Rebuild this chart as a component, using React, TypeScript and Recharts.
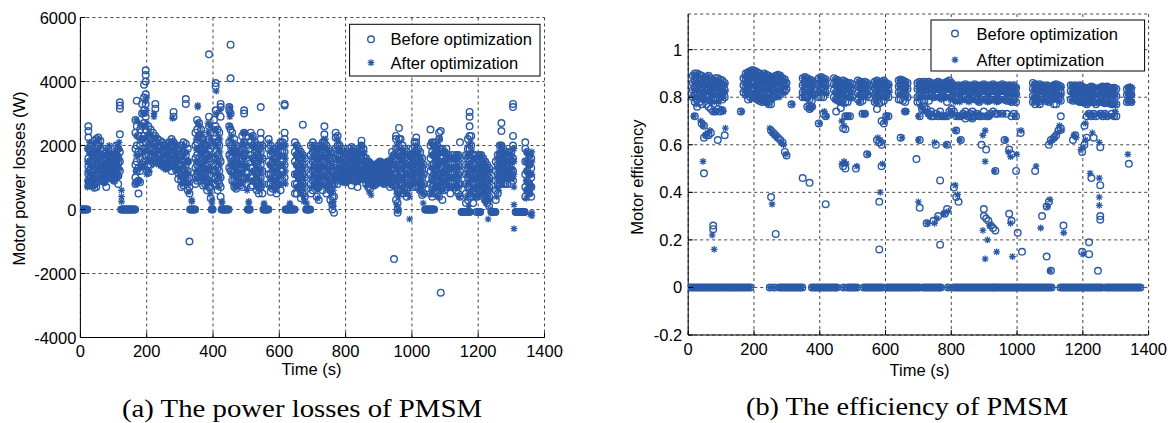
import { ScatterChart, Scatter, XAxis, YAxis, CartesianGrid } from 'recharts';

const BLUE = '#2b5aa8';
const SANS = '"Liberation Sans", Arial, sans-serif';

const timeTicks = [0, 200, 400, 600, 800, 1000, 1200, 1400];
const lossTicks = [-4000, -2000, 0, 2000, 4000, 6000];
const effTicks = [-0.2, 0, 0.2, 0.4, 0.6, 0.8, 1];

// (a) power losses, W. Each column: [time, values...]
const lossZeroTimes = [
  0, 3, 6, 9, 12, 15, 18, 21, 123, 126, 129, 132, 135, 138, 141, 144, 147, 150, 153, 156, 159, 162, 165,
  331, 334, 337, 340, 343, 346, 396, 399, 426, 429, 432, 435, 438, 441, 444, 447, 505, 508, 511,
  552, 555, 558, 561, 564, 567, 619, 622, 625, 628, 631, 634, 637, 640, 643, 646, 681, 684, 687, 690, 693,
  1040, 1043, 1046, 1049, 1052, 1055, 1058, 1061, 1064, 1067,
];
const lossDipTimes = [
  1150, 1153, 1156, 1159, 1171, 1174, 1195, 1203, 1206, 1240, 1243, 1246, 1249, 1252,
  1313, 1316, 1319, 1322, 1325, 1328, 1331, 1334, 1337, 1340,
];

const lossBeforeCols: number[][] = [
  [24, 2600, 2450, 2250, 1900, 1600, 1350, 1100, 900, 750], [30, 1850, 1500, 1250, 1050, 900, 800],
  [36, 2000, 1700, 1400, 1150, 950, 750], [42, 2150, 1800, 1500, 1250, 1000, 800, 680],
  [48, 2200, 1900, 1600, 1300, 1050, 850, 700], [54, 2250, 2000, 1700, 1400, 1150, 900],
  [60, 2150, 1900, 1650, 1350, 1100, 950], [66, 1700, 1450, 1250, 1050, 900], [72, 1600, 1400, 1200, 1000, 850],
  [78, 1800, 1550, 1300, 1100, 950, 700], [84, 1900, 1700, 1500, 1300, 1100], [90, 1800, 1600, 1400, 1200, 1050],
  [96, 1700, 1500, 1300, 1100, 950], [102, 1600, 1400, 1250, 1100, 900], [108, 2000, 1700, 1500, 1300, 1100],
  [114, 1900, 1650, 1450, 1250, 1050, 800], [119, 3350, 3250, 3150, 2350, 1800, 1500, 1200],
  [166, 2800, 2400, 1900, 1400, 1000, 800], [170, 3400, 2600, 2000, 1500, 1200, 850], [175, 2300, 1800, 1300, 900, 500],
  [180, 2500, 2000, 1600, 1200, 850], [186, 3300, 3000, 2600, 2200, 1800, 1400],
  [192, 3900, 3500, 3100, 2700, 2300, 1900, 1500], [197, 4350, 4200, 4000, 3600, 3300, 2900, 2500, 2100, 1700],
  [205, 2600, 2300, 2000, 1700, 1400, 1150], [212, 2500, 2200, 1900, 1650, 1400], [219, 2400, 2150, 1900, 1650, 1450],
  [226, 3300, 3150, 2300, 2050, 1800, 1550], [233, 2200, 1950, 1700, 1500], [240, 2150, 1900, 1650, 1450],
  [247, 2100, 1850, 1600, 1400], [254, 2000, 1800, 1550, 1350], [261, 2050, 1800, 1550, 1300],
  [268, 2100, 1850, 1600, 1350], [275, 2200, 1950, 1700, 1450, 1200], [281, 3050, 2900, 2100, 1850, 1600, 1350],
  [288, 2000, 1750, 1500, 1250], [295, 1900, 1650, 1400, 1150, 950],
  [304, 2000, 1700, 1400, 1100, 900, 700], [311, 2100, 1800, 1500, 1200, 950, 750],
  [318, 3450, 3300, 2050, 1700, 1400, 1100, 850], [324, 1900, 1500, 1200, 900, 600], [329, 1000, 700, 500, -1000],
  [347, 2400, 2000, 1600, 1300, 1000, 800], [352, 2800, 2500, 2100, 1700, 1400, 1100, 900],
  [358, 2700, 2300, 1900, 1600, 1300, 1000], [364, 2500, 2200, 1800, 1500, 1200, 900],
  [370, 2200, 1900, 1600, 1300, 1000, 750], [376, 2000, 1700, 1400, 1100, 800], [382, 2000, 1700, 1400, 1100, 850, 600],
  [388, 4850, 2900, 2600, 2200, 1800, 1400, 1050, 700], [393, 2400, 1900, 1500, 1100, 700, 350],
  [403, 2800, 2400, 2000, 1600, 1200, 800], [408, 3950, 3850, 3100, 2600, 2100, 1600, 1200, 800],
  [414, 2500, 2100, 1700, 1300, 900, 600], [419, 2400, 2000, 1600, 1200, 800], [423, 3300, 3200, 2900, 1500, 1000, 700, 400],
  [449, 3200, 3100, 2600, 2100, 1700, 1300], [453, 5150, 4100, 3000, 2500, 2000, 1600, 1200],
  [458, 2400, 2000, 1600, 1200, 900], [464, 2200, 1800, 1500, 1200, 900, 700], [470, 2000, 1700, 1400, 1100, 850, 650],
  [476, 1900, 1600, 1300, 1050, 800], [482, 1800, 1500, 1250, 1000, 750], [488, 2300, 1900, 1600, 1300, 1000, 700],
  [494, 3100, 3000, 2400, 2100, 1700, 1300, 1000], [500, 2300, 2000, 1600, 1200, 800],
  [514, 2400, 2100, 1700, 1300, 1000, 700], [520, 2300, 2000, 1600, 1300, 1000, 750], [526, 2100, 1800, 1500, 1200, 900],
  [532, 2000, 1700, 1400, 1100, 800, 600], [538, 1900, 1600, 1300, 1000, 700, 500],
  [544, 3200, 2400, 2200, 1800, 1400, 1000, 700], [549, 2000, 1600, 1200, 800, 500],
  [568, 2200, 1900, 1500, 1100, 800], [574, 2000, 1700, 1400, 1100, 800, 550], [580, 1800, 1500, 1200, 900, 650],
  [586, 1900, 1600, 1300, 1000, 700], [592, 1900, 1600, 1300, 1000, 750, 500], [598, 2000, 1700, 1400, 1100, 800],
  [604, 2100, 1800, 1500, 1200, 900, 600], [610, 2100, 1800, 1500, 1200, 900],
  [616, 3300, 3250, 2400, 2200, 1800, 1400, 1000],
  [647, 2100, 1800, 1500, 1100, 800, 500], [653, 2000, 1700, 1400, 1100, 800, 500], [659, 1900, 1600, 1300, 1000, 700],
  [665, 1800, 1500, 1200, 900, 600, 350], [671, 2650, 1700, 1400, 1100, 800, 500], [677, 1600, 1300, 1000, 700, 400],
  [695, 2000, 1700, 1400, 1100, 800, 500], [701, 2100, 1800, 1500, 1200, 900, 600], [707, 2000, 1700, 1400, 1100, 800],
  [713, 1900, 1600, 1300, 1000, 700, 400], [719, 1900, 1600, 1300, 1000, 700, 300], [725, 2000, 1700, 1400, 1100, 800],
  [731, 2100, 1800, 1500, 1200, 900, 600], [736, 2600, 2350, 2100, 1800, 1500, 1200, 900],
  [742, 2000, 1700, 1400, 1100, 800, 500], [748, 1900, 1600, 1300, 1000, 700], [754, 1800, 1500, 1200, 900, 600, 300],
  [760, 1600, 1200, 800, 400, 150, 0], [765, 1200, 800, 400, -100],
  [770, 2400, 2250, 1900, 1600, 1300, 1000], [776, 2300, 2000, 1700, 1400, 1100, 800], [782, 2000, 1700, 1400, 1150, 900],
  [788, 1900, 1650, 1400, 1150, 950], [794, 1800, 1550, 1300, 1100, 900], [800, 1750, 1500, 1250, 1050, 850],
  [806, 1800, 1550, 1300, 1100, 900], [812, 1900, 1650, 1400, 1150, 950], [818, 1950, 1700, 1450, 1200, 1000, 750],
  [824, 1900, 1650, 1400, 1150, 900], [830, 1800, 1550, 1300, 1100, 900], [836, 1800, 1550, 1300, 1100, 900, 700],
  [842, 1900, 1650, 1400, 1150, 950], [848, 2150, 2000, 1700, 1450, 1200, 1000], [854, 1900, 1650, 1400, 1150, 950],
  [862, 1600, 1400, 1200, 1000, 800], [868, 1500, 1300, 1100, 900, 700], [874, 1450, 1250, 1050, 850, 650],
  [880, 1400, 1200, 1000, 800], [886, 1350, 1150, 950, 750], [892, 1400, 1200, 1000, 800], [898, 1450, 1250, 1050, 850],
  [904, 1500, 1300, 1100, 900], [910, 1450, 1250, 1050, 850], [916, 1400, 1200, 1000, 800], [922, 1450, 1250, 1050, 850],
  [928, 1500, 1300, 1100, 900], [934, 1500, 1300, 1100, 900, 700], [940, 1800, 1500, 1250, 1000, 800],
  [946, 1700, 1400, 1100, 800, -1550],
  [952, 2300, 2200, 1900, 1500, 1100, 700, 300], [957, 1800, 1400, 1000, 600, 200, 0, -100],
  [961, 2550, 2200, 1800, 1400, 1000, 600], [966, 2200, 1800, 1400, 1000, 600], [972, 2000, 1700, 1400, 1100, 800, 500],
  [978, 1900, 1600, 1300, 1000, 700], [984, 1800, 1500, 1200, 900, 600, 400], [990, 1900, 1600, 1300, 1000, 700],
  [996, 1700, 1400, 1100, 800], [1002, 1900, 1600, 1300, 1000, 700], [1008, 2100, 1800, 1500, 1200, 900],
  [1013, 2250, 2100, 1700, 1300, 1000, 700], [1019, 1900, 1600, 1300, 1000, 700], [1025, 1800, 1500, 1200, 900, 600],
  [1031, 1600, 1300, 1000, 700, 450], [1036, 1400, 1100, 800, 500],
  [1056, 2500, 2000, 1600, 1200, 800, 500], [1061, 2100, 1800, 1400, 1000, 700, 400],
  [1066, 2000, 1700, 1400, 1100, 800, 500], [1071, 2100, 1800, 1500, 1200, 900, 600],
  [1076, 2000, 1700, 1400, 1100, 800, 500], [1082, 2400, 2200, 1900, 1500, 1100, 700, 400],
  [1087, 2450, 1900, 1600, 1300, 1000, 700, -2600], [1092, 1900, 1600, 1300, 1000, 700, 300],
  [1098, 1800, 1500, 1200, 900, 600], [1104, 1900, 1600, 1300, 1000, 700], [1110, 1700, 1400, 1100, 800],
  [1116, 1600, 1300, 1000, 700, 500], [1122, 1700, 1400, 1100, 800], [1128, 1600, 1300, 1000, 700],
  [1134, 1700, 1450, 1200, 900, 600], [1140, 1700, 1400, 1100, 800, 500], [1145, 2100, 1600, 1200, 800, 400],
  [1163, 1700, 1400, 1100, 800, 500, 200], [1169, 2200, 1900, 1600, 1300, 1000, 700, 300],
  [1174, 3050, 2900, 2600, 2300, 1900, 1500, 1100, 700], [1179, 2300, 2000, 1600, 1200, 800, 400],
  [1185, 1700, 1400, 1100, 800, 500, 200], [1191, 1700, 1400, 1100, 800, 500], [1197, 1600, 1300, 1000, 700, 400],
  [1203, 1700, 1400, 1100, 800, 500], [1209, 1700, 1400, 1100, 800, 500], [1215, 1600, 1300, 1000, 700],
  [1221, 1500, 1200, 900, 600, 300], [1227, 1400, 1100, 800, 500, 200], [1233, 1300, 1000, 700, 400, 100],
  [1253, 1500, 1200, 900, 600, 300], [1259, 1700, 1400, 1100, 800, 500], [1265, 2000, 1700, 1400, 1100, 800],
  [1270, 2700, 2450, 2000, 1700, 1400, 1100], [1276, 1900, 1600, 1300, 1000, 800], [1282, 1800, 1500, 1250, 1000, 800],
  [1288, 1700, 1450, 1200, 1000, 800], [1294, 1800, 1500, 1250, 1000], [1300, 1800, 1500, 1200, 1000, 800],
  [1305, 3300, 3200, 2300, 2000, 1600, 1200, 900],
  [1342, 2100, 1900, 1500, 1100, 700, 400], [1348, 1800, 1500, 1200, 900, 600], [1354, 1700, 1400, 1100, 800, 500],
  [1360, 1600, 1300, 1000, 700, 400],
];

const lossAfterCols: number[][] = [
  [21, 1900, 1500, 1200, 900, 700], [27, 2100, 1750, 1400, 1100, 850], [33, 1900, 1600, 1300, 1000, 800],
  [39, 2050, 1700, 1400, 1100, 850], [45, 2100, 1800, 1500, 1200, 950, 750], [51, 2150, 1850, 1550, 1250, 950],
  [57, 2200, 1900, 1600, 1300, 1000], [63, 2000, 1700, 1400, 1150, 950], [69, 1650, 1400, 1200, 1000, 850],
  [75, 1700, 1450, 1250, 1050, 900], [81, 1850, 1600, 1400, 1200, 1000], [87, 2000, 1750, 1500, 1250, 1050],
  [93, 1750, 1550, 1350, 1150], [99, 1650, 1450, 1250, 1050, 900], [105, 1800, 1550, 1350, 1150, 950],
  [111, 2000, 1700, 1450, 1200, 1000], [117, 2100, 1900, 1600, 1300, 1050], [124, 600, 400, 250],
  [168, 2800, 2300, 1700, 1200, 800], [178, 2700, 2200, 1700, 1300, 900], [188, 3000, 2600, 2200, 1800, 1400],
  [195, 3400, 3000, 2600, 2200, 1800, 1300], [200, 3500, 3100, 2700, 2300, 1900, 1500, 1100],
  [208, 2400, 2100, 1800, 1500, 1200], [215, 2300, 2050, 1800, 1550], [222, 3000, 2900, 2200, 1950, 1700, 1450],
  [229, 2250, 2000, 1750, 1500], [236, 2100, 1850, 1600, 1400], [243, 2050, 1800, 1550, 1350],
  [250, 1950, 1700, 1500, 1300], [257, 1900, 1700, 1450, 1250], [264, 2000, 1750, 1500, 1300],
  [271, 2100, 1850, 1600, 1400], [278, 2850, 2150, 1900, 1650, 1400], [285, 2050, 1800, 1550, 1300],
  [292, 1950, 1700, 1450, 1200], [299, 1800, 1550, 1300, 1050],
  [307, 1900, 1600, 1300, 1000, 800], [314, 2000, 1700, 1400, 1100, 800], [321, 1800, 1500, 1200, 900],
  [327, 1500, 1100, 800, 550], [336, 300, 250],
  [349, 2200, 1900, 1500, 1200, 950], [354, 3250, 3200, 2700, 2300, 1900, 1500, 1200], [361, 2600, 2200, 1800, 1400, 1100],
  [367, 2400, 2000, 1700, 1300, 1000], [373, 2100, 1800, 1500, 1200, 900], [379, 1900, 1600, 1300, 1000, 700],
  [385, 2700, 2400, 2000, 1600, 1200, 800], [391, 2600, 2200, 1700, 1300, 900, 500], [397, 300, 200],
  [405, 2500, 2100, 1700, 1300, 900], [410, 3700, 3000, 2500, 2000, 1500, 1100], [416, 2300, 1900, 1500, 1100, 700],
  [421, 3100, 2200, 1800, 1400, 1000], [427, 250, 200],
  [451, 3200, 3000, 2900, 2600, 2200, 1800, 1400], [456, 2300, 1900, 1500, 1100], [461, 2100, 1800, 1400, 1100, 800],
  [467, 2000, 1700, 1300, 1000, 700], [473, 1800, 1500, 1200, 950, 700], [479, 1700, 1400, 1150, 900],
  [485, 2000, 1700, 1400, 1100, 800], [491, 2400, 2100, 1800, 1400, 1100], [497, 2400, 2000, 1600, 1300, 900],
  [503, 1800, 1400, 1000, 600], [508, 250, 200],
  [517, 2300, 2000, 1600, 1200, 900], [523, 2200, 1900, 1500, 1200, 900], [529, 2000, 1700, 1400, 1100, 800],
  [535, 1900, 1600, 1300, 1000, 700], [541, 1800, 1500, 1200, 900, 600], [547, 2000, 1600, 1200, 800], [554, 200, 150],
  [571, 2100, 1800, 1400, 1000, 700], [577, 1900, 1600, 1300, 1000, 700], [583, 1800, 1500, 1200, 900],
  [589, 1800, 1500, 1200, 900, 600], [595, 1900, 1600, 1300, 1000, 700], [601, 2000, 1700, 1400, 1100, 800],
  [607, 2000, 1700, 1400, 1100, 800], [613, 2000, 1700, 1400, 1100], [619, 2000, 1600, 1200, 800], [632, 200, 150],
  [650, 2000, 1700, 1400, 1100, 700], [656, 1900, 1600, 1300, 1000, 700], [662, 1800, 1500, 1200, 900, 600],
  [668, 1700, 1400, 1100, 800, 500], [674, 1600, 1300, 1000, 700, 400, 250], [683, 200],
  [698, 1900, 1600, 1300, 1000, 700], [704, 2000, 1700, 1400, 1100, 800], [710, 1900, 1600, 1300, 1000, 700],
  [716, 1800, 1500, 1200, 900, 600, 350], [722, 1900, 1600, 1300, 1000, 700], [728, 2000, 1700, 1400, 1100, 800],
  [734, 2200, 1900, 1600, 1300, 1000], [739, 2200, 1900, 1600, 1300, 1000, 700], [745, 1900, 1600, 1300, 1000, 700],
  [751, 1800, 1500, 1200, 900, 600], [757, 1700, 1400, 1100, 800, 500, 200], [763, 1000, 600, 250, 100],
  [773, 2200, 1900, 1600, 1300, 1000], [779, 2100, 1800, 1500, 1200, 950], [785, 1900, 1600, 1350, 1100, 900],
  [791, 1800, 1550, 1300, 1100, 850], [797, 1700, 1450, 1200, 1000], [803, 1700, 1450, 1250, 1050, 850],
  [809, 1800, 1550, 1300, 1100], [815, 1850, 1600, 1350, 1100, 900], [821, 1900, 1650, 1400, 1150, 950],
  [827, 1800, 1550, 1300, 1100], [833, 1750, 1500, 1250, 1050, 850], [839, 1800, 1550, 1300, 1100, 900],
  [845, 2000, 1750, 1500, 1250, 1000], [851, 1950, 1700, 1450, 1200, 1000], [857, 1800, 1550, 1300, 1100],
  [865, 1550, 1350, 1150, 950, 750], [871, 1500, 1300, 1100, 900, 550], [877, 1400, 1200, 1000, 800, 450],
  [883, 1350, 1150, 950, 750], [889, 1400, 1200, 1000, 800], [895, 1400, 1200, 1000, 800], [901, 1450, 1250, 1050, 850],
  [907, 1500, 1300, 1100, 900], [913, 1400, 1200, 1000, 800], [919, 1400, 1200, 1000, 800], [925, 1500, 1300, 1100, 900],
  [931, 1500, 1300, 1100, 900], [937, 1600, 1400, 1150, 950, 750], [943, 1700, 1400, 1100, 850],
  [954, 2000, 1700, 1300, 900, 500, 150], [959, 1600, 1200, 800, 400, 0, -50], [963, 2100, 1700, 1300, 900, 500],
  [969, 1900, 1600, 1300, 1000, 700], [975, 1800, 1500, 1200, 900, 600], [981, 1700, 1400, 1100, 800, 500],
  [987, 1700, 1400, 1100, 800, 500], [993, 1600, 1300, 1000, 700, 400, -300], [999, 1700, 1400, 1100, 800],
  [1005, 1800, 1500, 1200, 900], [1011, 2000, 1700, 1400, 1100, 800], [1016, 2000, 1700, 1400, 1100, 800],
  [1022, 1800, 1500, 1200, 900, 600], [1028, 1600, 1300, 1000, 700], [1034, 1400, 1100, 800, 500, 200],
  [1058, 2100, 1700, 1300, 900, 500], [1063, 2000, 1700, 1300, 1000, 600], [1068, 1900, 1600, 1300, 1000, 700],
  [1073, 2000, 1700, 1400, 1100, 800], [1079, 1900, 1600, 1300, 1000, 700, 400], [1084, 2200, 1800, 1400, 1000, 700],
  [1090, 1800, 1500, 1200, 900, 600], [1095, 1800, 1500, 1200, 900, 600], [1101, 1800, 1500, 1200, 900],
  [1107, 1700, 1400, 1100, 800], [1113, 1600, 1300, 1000, 700], [1119, 1600, 1300, 1000, 700],
  [1125, 1600, 1300, 1000, 700], [1131, 1600, 1300, 1000, 700], [1137, 1700, 1400, 1100, 800],
  [1143, 1600, 1300, 1000, 700, 400],
  [1166, 1700, 1400, 1100, 800, 400], [1171, 2000, 1700, 1300, 900, 500, 100], [1177, 2100, 1800, 1400, 1000, 600],
  [1182, 1800, 1500, 1200, 900, 500], [1188, 1600, 1300, 1000, 700, 400], [1194, 1600, 1300, 1000, 700],
  [1200, 1600, 1300, 1000, 700, 400, -50], [1206, 1700, 1400, 1100, 800, 500], [1212, 1600, 1300, 1000, 700],
  [1218, 1500, 1200, 900, 600, 300], [1224, 1400, 1100, 800, 500, 200], [1230, 1300, 1000, 700, 400, -300],
  [1236, 1200, 900, 600, 300, 0],
  [1256, 1600, 1300, 1000, 700, 400], [1262, 1800, 1500, 1200, 900, 600], [1268, 2000, 1700, 1400, 1100, 800],
  [1273, 1900, 1600, 1300, 1000, 800], [1279, 1800, 1500, 1250, 1000], [1285, 1700, 1450, 1200, 950],
  [1291, 1750, 1500, 1250, 1000], [1297, 1750, 1450, 1200, 950], [1303, 1900, 1600, 1300, 1000],
  [1308, 1900, 1500, 1100, 700, 150, -600],
  [1345, 1800, 1500, 1200, 900, 600, 350], [1351, 1700, 1400, 1100, 800, 500], [1357, 1700, 1400, 1100, 800, 500, -150],
  [1362, 1800, 1500, 1100, 700, -100, -200],
];

// (b) efficiency
const effZeroTimes = [
  0, 7, 14, 21, 28, 35, 42, 49, 56, 63, 70, 77, 84, 91, 98, 105, 112, 119, 126, 133, 140, 147, 154, 161, 168, 175, 182, 189,
  248, 262, 277, 284, 291, 298, 305, 312, 319, 326, 333, 340, 347,
  376, 383, 390, 397, 404, 411, 418, 425, 432, 439, 446, 452, 472, 485, 492, 499, 506, 513,
  534, 541, 548, 555, 562, 569, 576, 583, 590, 604, 611, 618, 625, 632, 639, 646, 653, 660, 667, 674, 681, 688, 695, 702,
  714, 721, 728, 735, 742, 749, 756, 763, 768, 790, 807, 814, 821, 828, 835, 842, 849, 856, 863, 870, 877,
  884, 891, 898, 905, 912, 919, 926, 931, 937, 944, 951, 958, 965, 972, 979, 986, 993, 1000, 1007, 1014, 1021,
  1028, 1035, 1042, 1049, 1056, 1063, 1070, 1077, 1084, 1091, 1098, 1105,
  1132, 1139, 1146, 1153, 1160, 1167, 1174, 1181, 1188, 1195, 1202, 1209, 1216, 1223, 1230, 1237, 1244, 1251, 1258,
  1270, 1277, 1284, 1291, 1298, 1305, 1312, 1319, 1326, 1333, 1340, 1347, 1354, 1361, 1368, 1375,
];

const effBeforeCols: number[][] = [
  [14, .89, .86, .83, .80], [20, .90, .87, .84, .81, .78, .72], [27, .90, .875, .85, .82, .79, .76],
  [34, .895, .87, .84, .81, .78], [41, .89, .86, .83, .80, .77, .69], [48, .88, .85, .82, .79, .68, .63, .48],
  [55, .885, .86, .83, .80, .77, .64], [62, .89, .86, .83, .80, .76, .64], [69, .88, .85, .82, .79, .75, .65],
  [76, .87, .845, .82, .79, .74, .26, .245], [83, .88, .85, .82, .79, .74], [90, .88, .85, .82, .79, .75, .62],
  [97, .875, .85, .82, .80, .74], [104, .87, .845, .82, .79, .745], [111, .86, .83, .80, .64], [160, .74],
  [168, .88, .85, .82], [175, .90, .87, .84, .81], [182, .905, .88, .85, .82, .79], [189, .91, .885, .86, .83, .80],
  [196, .915, .89, .86, .83, .80], [203, .91, .885, .86, .83, .80], [210, .905, .88, .85, .82, .79],
  [217, .90, .875, .85, .82, .785], [224, .89, .865, .84, .81, .78], [231, .90, .875, .85, .82, .79],
  [238, .895, .87, .845, .815, .78], [245, .89, .865, .84, .81, .78, .77], [252, .88, .855, .83, .80, .77, .66, .38],
  [259, .885, .86, .83, .80, .65], [266, .89, .865, .84, .81, .64, .225], [273, .895, .87, .84, .81, .63],
  [280, .89, .865, .84, .81, .62], [287, .88, .855, .83, .61], [294, .875, .85, .825, .57], [299, .86, .835, .555],
  [314, .77], [348, .88, .85, .82, .80, .46], [355, .885, .86, .83, .80], [362, .88, .855, .83, .80, .76],
  [369, .875, .85, .82, .79, .75, .44], [376, .87, .845, .815, .785, .76], [383, .86, .835, .81],
  [397, .88, .85, .82, .80, .69], [404, .885, .86, .83, .80], [411, .88, .855, .83, .80, .73], [418, .875, .85, .82, .72, .35],
  [443, .88, .855, .83, .80], [450, .875, .85, .82, .79, .74], [457, .87, .845, .815, .785], [464, .86, .835, .81, .78, .755],
  [471, .87, .845, .82, .79, .67, .51], [478, .865, .84, .81, .78, .72, .665, .50], [485, .86, .835, .81, .78, .72],
  [492, .86, .835, .80, .72], [499, .855, .83, .80], [510, .50], [516, .87, .845, .82, .79], [523, .865, .84, .81, .78],
  [530, .86, .835, .81, .785, .73], [537, .865, .84, .81, .73], [544, .86, .835, .805, .56], [551, .85, .825, .80],
  [567, .865, .84, .81, .78], [574, .87, .845, .815, .785, .75, .62], [581, .86, .835, .805, .775, .61, .36, .16],
  [588, .865, .84, .81, .78, .70, .60, .51], [595, .87, .845, .815, .785, .69], [602, .86, .835, .805, .72],
  [609, .855, .83, .80, .72], [640, .87, .845, .82, .79], [646, .875, .85, .82, .79, .63], [653, .87, .845, .815, .785],
  [660, .865, .84, .81, .78, .74], [667, .86, .835, .80], [694, .54], [697, .86, .835, .80, .78],
  [704, .865, .84, .81, .78, .72, .62, .335], [711, .86, .835, .81, .785, .75], [718, .865, .84, .81, .785, .76],
  [725, .86, .835, .805, .75, .27], [732, .865, .84, .81, .785, .73], [739, .86, .835, .81, .74, .72],
  [746, .855, .83, .80, .72, .28], [753, .86, .835, .81, .73, .60], [760, .865, .84, .81, .72, .30],
  [766, .86, .835, .80, .74, .45, .18], [773, .855, .83, .80, .72], [780, .86, .835, .80, .72, .31],
  [787, .865, .84, .81, .78, .72, .60, .33], [794, .87, .845, .81, .74], [801, .86, .835, .80, .75, .73],
  [808, .85, .825, .80, .74, .42], [815, .845, .82, .79, .72, .66, .38], [822, .85, .825, .80, .72, .36],
  [829, .845, .82, .79, .72, .62], [836, .85, .825, .80, .73], [843, .855, .83, .80, .74, .71], [850, .85, .825, .79, .72],
  [857, .845, .82, .79, .73], [864, .85, .825, .795, .74, .71], [871, .855, .83, .80, .72], [878, .85, .825, .79, .73],
  [885, .845, .82, .78, .72], [892, .85, .825, .79, .72, .60], [899, .855, .83, .80, .74, .33, .30],
  [906, .85, .825, .79, .72, .58, .29], [913, .845, .82, .785, .72, .28], [920, .85, .825, .79, .73, .26],
  [927, .855, .83, .80, .74, .25], [934, .85, .825, .79, .73, .49, .24], [941, .845, .82, .785, .73], [948, .85, .825, .79],
  [955, .855, .83, .80, .73], [962, .85, .825, .79, .62], [969, .845, .82, .785, .73], [976, .85, .825, .79, .58, .31],
  [983, .845, .82, .78, .72, .56, .28], [990, .85, .825, .79, .73], [997, .84, .815, .78, .72, .49], [1002, .23],
  [1011, .65], [1015, .15], [1048, .86, .835, .805, .78], [1055, .855, .83, .80, .77, .49], [1062, .85, .825, .795],
  [1069, .855, .83, .80, .77], [1076, .85, .825, .79, .30], [1083, .845, .82, .785], [1090, .85, .825, .79, .34, .13],
  [1097, .845, .82, .78, .60, .36], [1103, .84, .81, .62, .07], [1112, .85, .825, .795, .77, .63],
  [1119, .855, .83, .80, .77, .64], [1126, .85, .825, .79, .66], [1133, .845, .82, .785, .67, .72], [1141, .26],
  [1163, .85, .825, .79], [1170, .845, .82, .785, .62], [1177, .85, .825, .79, .64], [1184, .845, .82, .785],
  [1191, .85, .82, .78], [1198, .845, .815, .78, .57, .15], [1205, .84, .81, .78, .68, .60], [1212, .835, .805, .77, .72, .63],
  [1219, .84, .81, .78, .73, .19, .14], [1226, .845, .815, .78, .72, .46], [1233, .84, .81, .78, .73, .63],
  [1240, .835, .805, .77, .72], [1246, .07], [1253, .84, .81, .78, .73, .59, .43, .30, .285], [1260, .845, .815, .78, .72],
  [1267, .84, .81, .775, .73], [1274, .845, .815, .78, .72], [1281, .84, .81, .775], [1288, .835, .805, .77, .73],
  [1295, .84, .81, .775, .72], [1302, .835, .805, .77, .72], [1334, .835, .81, .78], [1340, .84, .815, .785, .52],
  [1347, .835, .81, .78],
];

const effAfterCols: number[][] = [
  [17, .89, .86, .83, .80, .72], [24, .895, .865, .835, .80, .77], [31, .89, .86, .83, .80], [38, .885, .855, .825, .795, .70],
  [45, .88, .85, .82, .79, .68, .53], [52, .88, .85, .82, .79, .64], [59, .885, .855, .825, .79, .65],
  [66, .875, .85, .82, .785, .66], [73, .87, .84, .81, .78, .22], [79, .875, .845, .815, .74, .16],
  [86, .87, .84, .81, .78, .74], [93, .87, .845, .815, .78], [100, .865, .84, .81, .75], [107, .86, .83, .80, .74],
  [113, .855, .825, .67], [163, .74], [171, .885, .855, .825], [178, .90, .87, .84, .81], [185, .905, .875, .845, .815],
  [192, .91, .88, .85, .82, .79], [199, .91, .88, .85, .82, .80], [206, .905, .875, .845, .815],
  [213, .90, .87, .84, .81, .785], [220, .89, .86, .83, .80], [227, .895, .865, .835, .80, .78], [234, .895, .865, .835, .80],
  [241, .89, .86, .83, .80, .775], [248, .885, .855, .825, .795, .67], [255, .88, .85, .82, .79, .65, .35],
  [262, .885, .855, .825, .64], [269, .89, .86, .83, .80, .63], [276, .89, .86, .83, .80], [283, .885, .855, .825, .61],
  [290, .875, .845, .815, .60], [297, .865, .84, .56], [316, .77], [351, .88, .85, .82, .80], [358, .88, .855, .825],
  [365, .875, .85, .82, .79, .76], [372, .87, .845, .815, .75], [379, .865, .84, .81, .76], [400, .88, .85, .82, .69],
  [407, .88, .855, .825], [414, .875, .85, .82, .74], [421, .87, .845, .815, .72], [446, .875, .85, .82, .79],
  [453, .87, .845, .815, .785], [460, .865, .84, .81, .78], [467, .86, .835, .805, .70, .52],
  [474, .865, .84, .81, .77, .68, .53], [481, .86, .835, .805, .72, .52], [488, .855, .83, .80, .72], [495, .85, .825, .795],
  [513, .51], [519, .865, .84, .81, .78], [526, .86, .835, .805], [533, .86, .835, .80, .73], [540, .86, .83, .80, .73],
  [547, .85, .82, .56], [570, .865, .84, .81, .78], [577, .865, .84, .81, .63], [584, .86, .83, .80, .62, .40],
  [591, .86, .835, .80, .61, .52], [598, .865, .84, .81, .70], [605, .855, .83, .80, .72], [612, .85, .82],
  [643, .87, .845, .815], [650, .87, .845, .815, .63], [657, .865, .84, .81, .74], [664, .86, .835, .80, .74],
  [700, .86, .835, .80, .72, .62, .36], [707, .86, .835, .805, .76], [714, .86, .835, .805, .75], [721, .86, .835, .80, .74],
  [728, .86, .83, .80, .73, .27], [735, .86, .835, .805, .72], [742, .855, .83, .80, .73], [749, .855, .83, .80, .61, .27],
  [756, .86, .835, .80, .72, .29], [763, .86, .83, .80, .73], [770, .855, .83, .79, .72], [777, .86, .83, .80, .72, .31],
  [784, .865, .835, .80, .72, .60], [791, .865, .84, .80, .32], [798, .86, .83, .79, .74], [805, .85, .82, .79, .73],
  [812, .845, .815, .78, .66, .43], [819, .845, .815, .785, .72, .39], [826, .845, .815, .78, .62], [833, .845, .82, .79, .72],
  [840, .85, .825, .79, .73], [847, .85, .82, .785, .72], [854, .845, .815, .78, .73], [861, .845, .82, .79, .71],
  [868, .85, .825, .79, .73], [875, .85, .82, .785, .72], [882, .845, .815, .78, .73], [889, .845, .82, .785, .72],
  [896, .85, .825, .79, .64, .24], [903, .85, .82, .785, .66, .53, .12], [910, .845, .815, .78, .72, .20],
  [917, .845, .82, .785, .72, .26], [924, .85, .825, .79, .73], [931, .85, .82, .785, .49], [938, .845, .815, .78, .15],
  [945, .845, .82, .785, .73], [952, .85, .825, .79], [959, .85, .825, .79, .73], [966, .845, .82, .785, .62],
  [973, .85, .82, .785, .57], [980, .845, .815, .78, .55, .27], [986, .845, .82, .785, .13], [993, .845, .815, .78, .72],
  [999, .84, .81, .56], [1012, .66], [1051, .855, .83, .80, .78], [1058, .855, .83, .80, .51], [1065, .85, .825, .795, .77],
  [1072, .85, .825, .79, .25], [1079, .845, .82, .785], [1086, .85, .82, .79], [1093, .845, .815, .78, .34],
  [1100, .84, .81, .61, .37, .07], [1108, .85, .82, .79, .62], [1115, .855, .83, .80, .63], [1122, .85, .82, .79, .65],
  [1129, .845, .815, .785, .68], [1136, .84, .81, .66], [1142, .23], [1166, .85, .82, .79], [1173, .845, .815, .785, .64],
  [1180, .85, .82, .79, .63], [1187, .845, .815, .78], [1194, .845, .815, .78, .58], [1201, .84, .81, .78, .59, .14],
  [1208, .84, .81, .775, .69, .62], [1215, .835, .805, .77, .73], [1222, .84, .81, .78, .72, .48],
  [1229, .845, .815, .78, .73, .65], [1236, .84, .81, .775, .72], [1243, .84, .81, .775],
  [1250, .84, .81, .78, .73, .61, .46, .38, .345], [1257, .845, .815, .78, .72], [1264, .84, .81, .775, .73],
  [1271, .845, .815, .78], [1278, .84, .81, .775, .72], [1285, .835, .805, .77], [1292, .84, .81, .775, .72],
  [1299, .835, .805, .77, .74], [1337, .84, .81, .78, .56], [1344, .845, .815, .785], [1350, .84, .81, .78],
];

type Pt = { x: number; y: number };

function fromCols(cols: number[][]): Pt[] {
  const out: Pt[] = [];
  cols.forEach(([t, ...vals]) => vals.forEach((v) => out.push({ x: t, y: v })));
  return out;
}
function atLevel(times: number[], level: number): Pt[] {
  return times.map((t) => ({ x: t, y: level }));
}

const lossBefore = [...atLevel(lossZeroTimes, 0), ...atLevel(lossDipTimes, -80), ...fromCols(lossBeforeCols)];
const lossAfter = [...atLevel(lossZeroTimes, 0), ...atLevel(lossDipTimes, -80), ...fromCols(lossAfterCols)];
const effBefore = [...atLevel(effZeroTimes, 0), ...fromCols(effBeforeCols)];
const effAfter = [...atLevel(effZeroTimes, 0), ...fromCols(effAfterCols)];

const Ring = (p: any) => <circle cx={p.cx} cy={p.cy} r={3.3} fill="none" stroke={BLUE} strokeWidth={1.4} />;
const Star = (p: any) => {
  const { cx, cy } = p;
  const s = 3.4;
  const d = 2.5;
  return (
    <path
      d={`M${cx - s},${cy}H${cx + s}M${cx},${cy - s}V${cy + s}M${cx - d},${cy - d}L${cx + d},${cy + d}M${cx - d},${cy + d}L${cx + d},${cy - d}`}
      stroke={BLUE}
      strokeWidth={1.3}
      fill="none"
    />
  );
};

// MATLAB style ticks pointing into the plot box
const makeTick = (side: 'bottom' | 'left' | 'top' | 'right', gap = 4) => (props: any) => {
  const { x, y, payload } = props;
  const v = payload.value;
  if (side === 'bottom')
    return (
      <g>
        <line x1={x} y1={y} x2={x} y2={y - 5} stroke="#000" />
        <text x={x} y={y + 19.5} textAnchor="middle" fontSize={16.5} fontFamily={SANS} fill="#000">{v}</text>
      </g>
    );
  if (side === 'left')
    return (
      <g>
        <line x1={x} y1={y} x2={x + 5} y2={y} stroke="#000" />
        <text x={x - gap} y={y + 6} textAnchor="end" fontSize={16.5} fontFamily={SANS} fill="#000">{v}</text>
      </g>
    );
  if (side === 'top') return <line x1={x} y1={y} x2={x} y2={y + 5} stroke="#000" />;
  return <line x1={x} y1={y} x2={x - 5} y2={y} stroke="#000" />;
};

type PanelProps = {
  left: number;
  width: number;
  height: number;
  margin: { top: number; right: number; bottom: number; left: number };
  yAxisWidth: number;
  xAxisHeight: number;
  yDomain: [number, number];
  yTicks: number[];
  gap: number;
  before: Pt[];
  after: Pt[];
};

function Panel(p: PanelProps) {
  return (
    <div style={{ position: 'absolute', left: p.left, top: 0 }}>
      <ScatterChart width={p.width} height={p.height} margin={p.margin}>
        <CartesianGrid stroke="#333" strokeDasharray="3 3" strokeWidth={0.9} />
        <XAxis type="number" dataKey="x" domain={[0, 1400]} ticks={timeTicks} interval={0} allowDataOverflow
          height={p.xAxisHeight} tickSize={0} tickMargin={0} tick={makeTick('bottom')} axisLine={{ stroke: '#000' }} />
        <XAxis xAxisId="t" orientation="top" type="number" dataKey="x" domain={[0, 1400]} ticks={timeTicks} interval={0}
          allowDataOverflow height={0} tickSize={0} tickMargin={0} tick={makeTick('top')} axisLine={{ stroke: '#000' }} />
        <YAxis type="number" dataKey="y" domain={p.yDomain} ticks={p.yTicks} interval={0} allowDataOverflow
          width={p.yAxisWidth} tickSize={0} tickMargin={0} tick={makeTick('left', p.gap)} axisLine={{ stroke: '#000' }} />
        <YAxis yAxisId="r" orientation="right" type="number" dataKey="y" domain={p.yDomain} ticks={p.yTicks} interval={0}
          allowDataOverflow width={0} tickSize={0} tickMargin={0} tick={makeTick('right')} axisLine={{ stroke: '#000' }} />
        <Scatter data={p.before} shape={Ring} isAnimationActive={false} />
        <Scatter data={p.after} shape={Star} isAnimationActive={false} />
        <Scatter xAxisId="t" yAxisId="r" data={[]} isAnimationActive={false} />
      </ScatterChart>
    </div>
  );
}

function LegendBox({ x, y, w, h, mx, tx, r1, r2 }: { x: number; y: number; w: number; h: number; mx: number; tx: number; r1: number; r2: number }) {
  return (
    <g>
      <rect x={x} y={y} width={w} height={h} fill="#fff" stroke="#000" strokeWidth={1} />
      <Ring cx={mx} cy={r1} />
      <Star cx={mx} cy={r2} />
      <text x={tx} y={r1 + 6} fontSize={16.5} fontFamily={SANS} fill="#000">Before optimization</text>
      <text x={tx} y={r2 + 6} fontSize={16.5} fontFamily={SANS} fill="#000">After optimization</text>
    </g>
  );
}

export default function App() {
  return (
    <div style={{ position: 'absolute', left: 0, top: 0, width: 1173, height: 423, background: '#fff', overflow: 'hidden' }}>
      <Panel left={0} width={580} height={385} margin={{ top: 17.5, right: 35.5, bottom: 0, left: 0 }}
        yAxisWidth={80.4} xAxisHeight={47.5} yDomain={[-4000, 6000]} yTicks={lossTicks} gap={4}
        before={lossBefore} after={lossAfter} />
      <Panel left={600} width={573} height={385} margin={{ top: 14, right: 24.4, bottom: 0, left: 0 }}
        yAxisWidth={88.2} xAxisHeight={50} yDomain={[-0.2, 1.15]} yTicks={effTicks} gap={6}
        before={effBefore} after={effAfter} />
      <svg width={1173} height={423} style={{ position: 'absolute', left: 0, top: 0, pointerEvents: 'none' }}>
        <LegendBox x={349.6} y={24.3} w={190.4} h={51.7} mx={371} tx={390.6} r1={39.3} r2={62.7} />
        <LegendBox x={931} y={20} w={213.6} h={51} mx={955} tx={976.6} r1={33.5} r2={59.8} />
        <text x={311.5} y={374.5} textAnchor="middle" fontSize={16.5} fontFamily={SANS} fill="#000">Time (s)</text>
        <text x={919.5} y={375.5} textAnchor="middle" fontSize={16.5} fontFamily={SANS} fill="#000">Time (s)</text>
        <text transform="translate(24.5,178.5) rotate(-90)" textAnchor="middle" fontSize={16.5} fontFamily={SANS} fill="#000">
          Motor power losses (W)
        </text>
        <text transform="translate(642.5,177) rotate(-90)" textAnchor="middle" fontSize={16.5} fontFamily={SANS} fill="#000">
          Motor efficiency
        </text>
        <text x={122} y={417} fontSize={26} fontFamily='"Liberation Serif", "DejaVu Serif", serif' fill="#000"
          textLength={360} lengthAdjust="spacingAndGlyphs">(a) The power losses of PMSM</text>
        <text x={746} y={415} fontSize={26} fontFamily='"Liberation Serif", "DejaVu Serif", serif' fill="#000"
          textLength={322} lengthAdjust="spacingAndGlyphs">(b) The efficiency of PMSM</text>
      </svg>
    </div>
  );
}
